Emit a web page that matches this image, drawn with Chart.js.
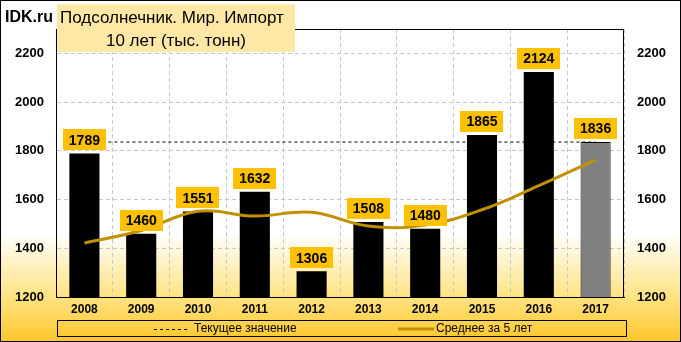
<!DOCTYPE html>
<html>
<head>
<meta charset="utf-8">
<script src="https://cdn.jsdelivr.net/npm/chart.js@4.4.1/dist/chart.umd.min.js"></script>
<style>
  html, body { margin: 0; padding: 0; background: #fff; }
  #wrap { width: 681px; height: 342px; }
</style>
</head>
<body>
<div id="wrap"><canvas id="chart" width="681" height="342"></canvas></div>
<script>
const years = ['2008', '2009', '2010', '2011', '2012', '2013', '2014', '2015', '2016', '2017'];
const importVals = [1789, 1460, 1551, 1632, 1306, 1508, 1480, 1865, 2124, 1836];
const avg5 = [1422, 1473, 1552, 1532, 1548, 1491, 1495, 1558, 1657, 1763];
const currentLevel = [1836, 1836, 1836, 1836, 1836, 1836, 1836, 1836, 1836, 1836];
const yTicks = [1200, 1400, 1600, 1800, 2000, 2200];

const titleLines = ['Подсолнечник. Мир. Импорт', '10 лет (тыс. тонн)'];
const legendItems = ['Текущее значение', 'Среднее за 5 лет'];

const BAR = '#000000';
const LAST_BAR = '#808080';
const AVG = '#BF9000';
const LABEL_BG = '#FFC000';
const GRID = '#C8C8C8';
const FONT = '"Liberation Sans", Arial, sans-serif';

// page background, frame, title and legend
const decor = {
  id: 'decor',
  beforeDraw(chart) {
    const ctx = chart.ctx;
    const g = ctx.createLinearGradient(0, 0, 0, chart.height);
    g.addColorStop(0, '#FFFFFF');
    g.addColorStop(0.68, '#FFFFFF');
    g.addColorStop(0.85, '#FFE68E');
    g.addColorStop(1, '#FFC62A');
    ctx.save();
    ctx.fillStyle = g;
    ctx.fillRect(0, 0, chart.width, chart.height);
    ctx.restore();
  },
  afterDraw(chart) {
    const ctx = chart.ctx;
    const a = chart.chartArea;
    ctx.save();
    // plot frame
    ctx.strokeStyle = '#000';
    ctx.lineWidth = 1;
    ctx.strokeRect(Math.round(a.left) + 0.5, Math.round(a.top) + 0.5,
      Math.round(a.right - a.left) - 1, Math.round(a.bottom - a.top));

    // title block
    ctx.fillStyle = '#FFE8A6';
    ctx.fillRect(57, 4, 238, 48);
    ctx.fillStyle = '#000';
    ctx.textBaseline = 'middle';
    ctx.textAlign = 'left';
    ctx.font = '17px ' + FONT;
    ctx.fillText(titleLines[0], 60, 18);
    ctx.textAlign = 'center';
    ctx.fillText(titleLines[1], 176, 41);

    ctx.textAlign = 'left';
    ctx.font = 'bold 16px ' + FONT;
    ctx.fillText('IDK.ru', 5, 18);

    // legend box
    ctx.strokeStyle = '#000';
    ctx.strokeRect(57.5, 320.5, 569, 16);
    ctx.font = '12px ' + FONT;
    ctx.fillStyle = '#000';
    ctx.setLineDash([3, 3]);
    ctx.lineWidth = 1;
    ctx.beginPath();
    ctx.moveTo(154, 329.5);
    ctx.lineTo(190, 329.5);
    ctx.stroke();
    ctx.setLineDash([]);
    ctx.fillText(legendItems[0], 194, 329);
    ctx.strokeStyle = AVG;
    ctx.lineWidth = 3;
    ctx.beginPath();
    ctx.moveTo(398, 329);
    ctx.lineTo(434, 329);
    ctx.stroke();
    ctx.fillText(legendItems[1], 436, 329);

    // outer border
    ctx.strokeStyle = '#000';
    ctx.lineWidth = 1;
    ctx.strokeRect(0.5, 0.5, chart.width - 1, chart.height - 1);
    ctx.restore();
  }
};

// value boxes above the bars
const valueLabels = {
  id: 'valueLabels',
  afterDatasetsDraw(chart) {
    const ctx = chart.ctx;
    const meta = chart.getDatasetMeta(0);
    ctx.save();
    ctx.font = 'bold 14px ' + FONT;
    ctx.textAlign = 'center';
    ctx.textBaseline = 'middle';
    meta.data.forEach((bar, i) => {
      const txt = String(importVals[i]);
      const w = ctx.measureText(txt).width + 12;
      const h = 21;
      const bottom = bar.y - 3;
      ctx.fillStyle = LABEL_BG;
      ctx.fillRect(Math.round(bar.x - w / 2), Math.round(bottom - h), Math.round(w), h);
      ctx.fillStyle = '#000';
      ctx.fillText(txt, bar.x, bottom - h / 2 + 1);
    });
    ctx.restore();
  }
};

const tickFont = { family: FONT, size: 13, weight: 'bold' };
const plainTick = v => String(v);

new Chart(document.getElementById('chart'), {
  data: {
    labels: years,
    datasets: [
      {
        type: 'bar',
        data: importVals,
        backgroundColor: importVals.map((v, i) => i === importVals.length - 1 ? LAST_BAR : BAR),
        borderColor: '#000',
        borderWidth: importVals.map((v, i) => i === importVals.length - 1 ? 1 : 0),
        barPercentage: 0.53,
        categoryPercentage: 1,
        yAxisID: 'y',
        order: 3
      },
      {
        type: 'line',
        data: currentLevel,
        borderColor: '#000',
        borderWidth: 1,
        borderDash: [3, 3],
        pointRadius: 0,
        fill: false,
        yAxisID: 'y',
        order: 2
      },
      {
        type: 'line',
        data: avg5,
        borderColor: AVG,
        borderWidth: 3,
        tension: 0.4,
        pointRadius: 0,
        fill: false,
        yAxisID: 'y',
        order: 1
      }
    ]
  },
  options: {
    responsive: false,
    animation: false,
    layout: { padding: { top: 29, bottom: 21, left: 0, right: 0 } },
    plugins: {
      legend: { display: false },
      tooltip: { enabled: false }
    },
    scales: {
      x: {
        offset: true,
        grid: {
          offset: true,
          color: GRID,
          drawTicks: false
        },
        border: { display: true, color: '#000', dash: [4, 3] },
        ticks: { color: '#000', font: { family: FONT, size: 12, weight: 'bold' }, padding: 5 },
        afterFit: s => { s.height = 24; }
      },
      y: {
        position: 'left',
        min: 1200,
        max: 2300,
        afterBuildTicks: s => { s.ticks = yTicks.map(v => ({ value: v })); },
        grid: { color: GRID, drawTicks: false },
        border: { color: '#000', dash: [4, 3] },
        ticks: { color: '#000', font: tickFont, padding: 12, callback: plainTick },
        afterFit: s => { s.width = 56; }
      },
      y2: {
        position: 'right',
        min: 1200,
        max: 2300,
        afterBuildTicks: s => { s.ticks = yTicks.map(v => ({ value: v })); },
        grid: { display: false, drawTicks: false },
        border: { display: false },
        ticks: { color: '#000', font: tickFont, padding: 13, callback: plainTick },
        afterFit: s => { s.width = 57; }
      }
    }
  },
  plugins: [decor, valueLabels]
});
</script>
</body>
</html>
